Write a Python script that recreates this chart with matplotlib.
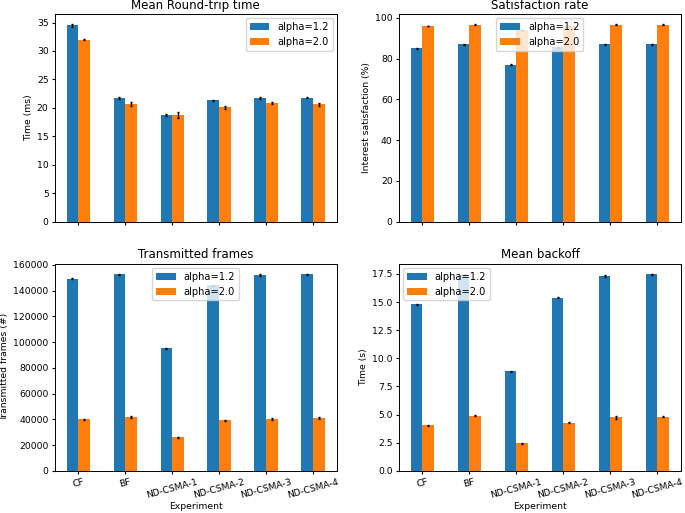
import matplotlib
matplotlib.use("Agg")
import matplotlib.pyplot as plt
import numpy as np

experiments = ["CF", "BF", "ND-CSMA-1", "ND-CSMA-2", "ND-CSMA-3", "ND-CSMA-4"]
series = ["alpha=1.2", "alpha=2.0"]

rtt_a12 = [34.5, 21.7, 18.8, 21.3, 21.7, 21.8]
rtt_a20 = [32.0, 20.7, 18.7, 20.1, 20.9, 20.6]
rtt_err12 = [0.2, 0.2, 0.15, 0.15, 0.2, 0.1]
rtt_err20 = [0.1, 0.3, 0.5, 0.3, 0.2, 0.3]

sat_a12 = [85.0, 87.0, 77.0, 85.5, 87.0, 87.0]
sat_a20 = [96.0, 96.7, 94.0, 96.0, 96.7, 96.7]
sat_err12 = [0.1, 0.2, 0.2, 0.1, 0.3, 0.1]
sat_err20 = [0.1, 0.2, 0.1, 0.1, 0.1, 0.1]

frames_a12 = [149300, 152500, 95200, 144000, 152000, 152500]
frames_a20 = [40000, 41800, 26000, 39200, 40500, 41200]
frames_err12 = [600, 500, 500, 600, 500, 700]
frames_err20 = [500, 500, 300, 700, 800, 900]

backoff_a12 = [14.8, 17.4, 8.85, 15.4, 17.3, 17.45]
backoff_a20 = [4.05, 4.9, 2.45, 4.3, 4.75, 4.82]
backoff_err12 = [0.06, 0.05, 0.04, 0.08, 0.06, 0.08]
backoff_err20 = [0.06, 0.03, 0.04, 0.06, 0.12, 0.06]

panels = [
    ("Mean Round-trip time", "Time (ms)", rtt_a12, rtt_a20, rtt_err12, rtt_err20, "upper right"),
    ("Satisfaction rate", "Interest satisfaction (%)", sat_a12, sat_a20, sat_err12, sat_err20, "upper center"),
    ("Transmitted frames", "Transmitted frames (#)", frames_a12, frames_a20, frames_err12, frames_err20, "upper center"),
    ("Mean backoff", "Time (s)", backoff_a12, backoff_a20, backoff_err12, backoff_err20, "upper left"),
]

# the original was rendered larger and scaled down, so text is smaller than mpl defaults
fs = 6.7
plt.rcParams["xtick.major.size"] = 2.5
plt.rcParams["ytick.major.size"] = 2.5
plt.rcParams["axes.linewidth"] = 0.7

fig, axes = plt.subplots(2, 2, figsize=(6.85, 5.13), dpi=100, sharex=True)
x = np.arange(len(experiments))
w = 0.25

for ax, (title, ylabel, v1, v2, e1, e2, loc) in zip(axes.flat, panels):
    ax.bar(x - w / 2, v1, w, yerr=e1, color="#1f77b4", ecolor="black",
           error_kw=dict(elinewidth=1, capsize=1), label=series[0])
    ax.bar(x + w / 2, v2, w, yerr=e2, color="#ff7f0e", ecolor="black",
           error_kw=dict(elinewidth=1, capsize=1), label=series[1])
    ax.set_title(title, fontsize=8.5, pad=4)
    ax.set_ylabel(ylabel, fontsize=fs, labelpad=3)
    ax.tick_params(labelsize=fs, pad=2)
    ax.set_xlim(-0.5, len(experiments) - 0.5)
    ax.legend(loc=loc, fontsize=7.1, borderaxespad=0.4)

for ax in axes[1]:
    ax.set_xticks(x)
    ax.set_xticklabels(experiments, rotation=15)
    ax.set_xlabel("Experiment", fontsize=fs, labelpad=2)

fig.subplots_adjust(left=0.080, right=0.994, top=0.972, bottom=0.082, wspace=0.221, hspace=0.203)
fig.savefig("out.png")
